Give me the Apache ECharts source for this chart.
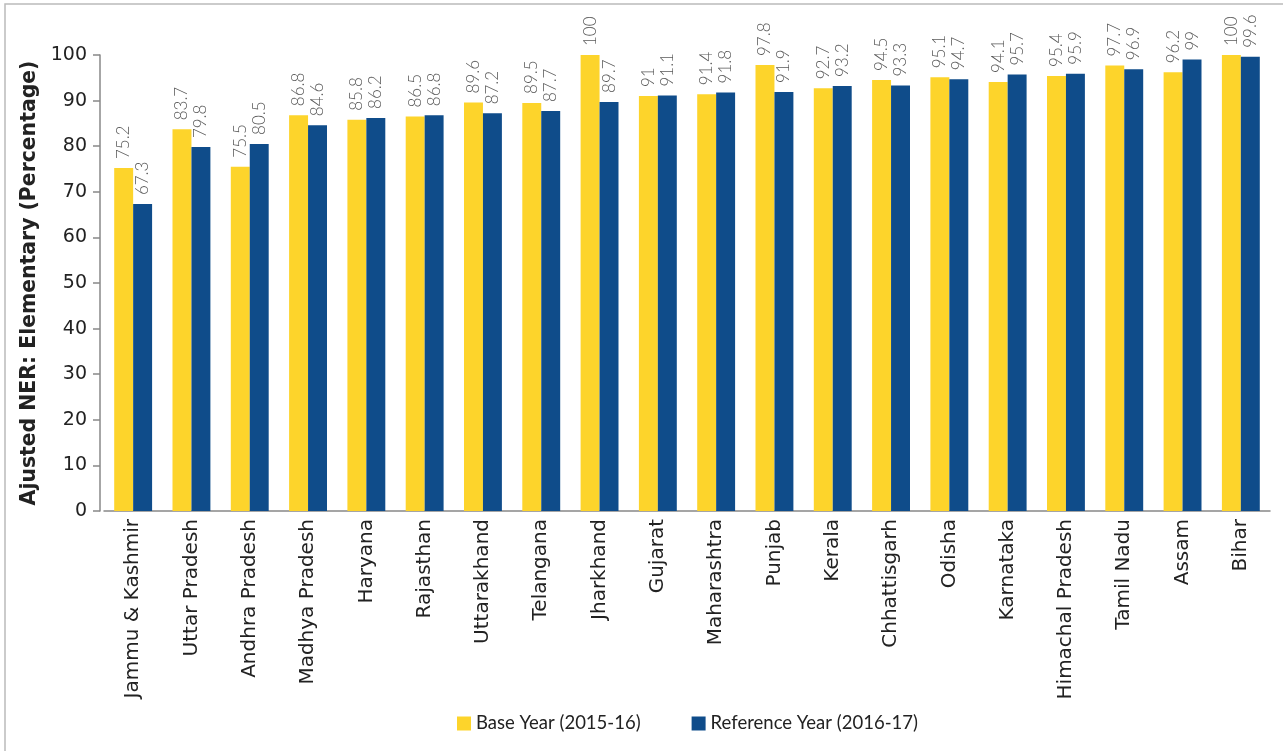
<!DOCTYPE html>
<html>
<head>
<meta charset="utf-8">
<script src="https://cdn.jsdelivr.net/npm/echarts@6/dist/echarts.min.js"></script>
<style>
html,body{margin:0;padding:0;background:#fff;}
#chart{width:1283px;height:751px;}
</style>
</head>
<body>
<div id="chart"></div>
<script>
const categories = ["Jammu & Kashmir","Uttar Pradesh","Andhra Pradesh","Madhya Pradesh","Haryana","Rajasthan","Uttarakhand","Telangana","Jharkhand","Gujarat","Maharashtra","Punjab","Kerala","Chhattisgarh","Odisha","Karnataka","Himachal Pradesh","Tamil Nadu","Assam","Bihar"];
const baseYear = [75.2,83.7,75.5,86.8,85.8,86.5,89.6,89.5,100,91,91.4,97.8,92.7,94.5,95.1,94.1,95.4,97.7,96.2,100];
const refYear = [67.3,79.8,80.5,84.6,86.2,86.8,87.2,87.7,89.7,91.1,91.8,91.9,93.2,93.3,94.7,95.7,95.9,96.9,99,99.6];
const seriesNames = ["Base Year (2015-16)","Reference Year (2016-17)"];
const yAxisName = "Ajusted NER: Elementary (Percentage)";

const FONT = "'DejaVu Sans', sans-serif";
const LFONT = "Lato, 'Noto Sans', sans-serif";
const chart = echarts.init(document.getElementById('chart'));
const labelCfg = {
  show: true, position: 'top', rotate: 90, align: 'left', verticalAlign: 'middle',
  distance: 9, color: '#5a5a5a', fontSize: 17, fontFamily: LFONT, fontWeight: 300
};
chart.setOption({
  animation: false,
  backgroundColor: '#fff',
  graphic: [{
    type: 'rect', shape: {x: 5, y: 4, width: 1290, height: 760},
    style: {fill: 'none', stroke: '#bbb', lineWidth: 1.5}, silent: true, z: -1
  }],
  grid: {left: 104, right: 13, top: 55, bottom: 240, containLabel: false},
  legend: {
    top: 709, left: 452, itemWidth: 14, itemHeight: 14, itemGap: 51,
    icon: 'rect',
    textStyle: {fontSize: 18.5, color: '#222', fontFamily: LFONT},
    data: seriesNames
  },
  xAxis: {
    type: 'category', data: categories,
    axisLine: {lineStyle: {color: '#888', width: 1.5}},
    axisTick: {show: false},
    axisLabel: {rotate: 90, fontSize: 20, color: '#222', fontFamily: FONT, margin: 8, interval: 0}
  },
  yAxis: {
    type: 'value', min: 0, max: 100, interval: 10, offset: 4,
    name: yAxisName, nameLocation: 'middle', nameGap: 54,
    nameTextStyle: {fontSize: 20.4, fontWeight: 'bold', color: '#222', fontFamily: FONT},
    axisLine: {show: true, lineStyle: {color: '#888', width: 1.5}},
    axisTick: {show: true, length: 7, lineStyle: {color: '#888', width: 1.5}},
    splitLine: {show: false},
    axisLabel: {fontSize: 19, color: '#222', fontFamily: FONT, margin: 13}
  },
  series: [
    {name: seriesNames[0], type: 'bar', data: baseYear, barGap: '0%', barCategoryGap: '35%',
     itemStyle: {color: '#FDD42B'}, label: labelCfg},
    {name: seriesNames[1], type: 'bar', data: refYear, barGap: '0%', barCategoryGap: '35%',
     itemStyle: {color: '#0F4C8A'}, label: labelCfg}
  ]
});
</script>
</body>
</html>
